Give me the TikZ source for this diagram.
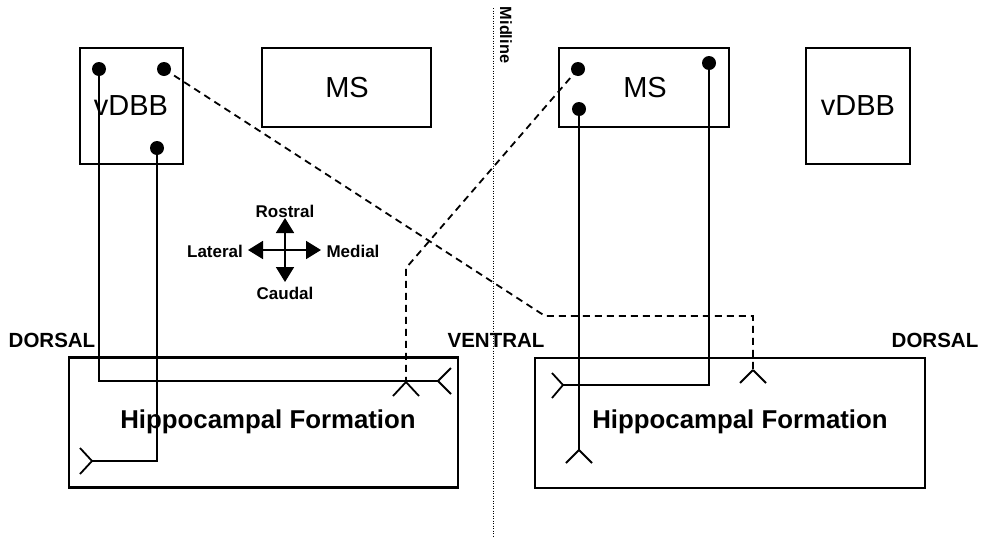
\documentclass[tikz,border=0pt]{standalone}
\usepackage{fontspec}
\setmainfont{Liberation Sans}
\usetikzlibrary{arrows.meta}
\begin{document}
\begin{tikzpicture}[x=1pt,y=-1pt,
  box/.style={draw, line width=2.6pt, rectangle, inner sep=0pt},
  boxtext/.style={font=\fontsize{29}{32}\selectfont},
  bigbold/.style={font=\fontsize{25.8}{28}\selectfont\bfseries},
  sidelabel/.style={font=\fontsize{20.5}{23}\selectfont\bfseries},
  compasslabel/.style={font=\fontsize{17}{19}\selectfont\bfseries},
  dot/.style={circle, fill=black, inner sep=0pt, minimum size=14pt},
  conn/.style={line width=1.8pt},
  dconn/.style={line width=1.8pt, dash pattern=on 7pt off 5pt},
  forkarm/.style={line width=1.8pt},
  compassarrow/.style={line width=1.8pt, {Triangle[width=18pt,length=15pt]}-{Triangle[width=18pt,length=15pt]}}
]
\useasboundingbox (0,0) rectangle (985,536);
\fill[white] (0,0) rectangle (985,536);

% Midline
\coordinate (midtop) at (493,8);
\coordinate (midbot) at (493,536);
\draw[line width=1pt, dash pattern=on 1.2pt off 1.3pt] (midtop) -- (midbot);
\node[rotate=-90, font=\fontsize{16.3}{18}\selectfont\bfseries] (midlabel) at (506,35) {Midline};

% Boxes
\node[box, minimum width=103pt, minimum height=116pt] (vdbbL) at (131.5,106) {};
\node[boxtext] (vdbbLt) at (131,106) {vDBB};
\node[box, minimum width=169pt, minimum height=79pt] (msL) at (346.5,87.5) {};
\node[boxtext] (msLt) at (347,88) {MS};
\node[box, minimum width=170pt, minimum height=79pt] (msR) at (644,87.5) {};
\node[boxtext] (msRt) at (645,88) {MS};
\node[box, minimum width=104pt, minimum height=116pt] (vdbbR) at (858,106) {};
\node[boxtext] (vdbbRt) at (858,106) {vDBB};

\node[box, minimum width=389pt, minimum height=130pt] (hfL) at (263.5,422.5) {};
\node[bigbold] (hfLt) at (268,422) {Hippocampal Formation};
\node[box, minimum width=390pt, minimum height=130pt] (hfR) at (730,423) {};
\node[bigbold] (hfRt) at (740,422) {Hippocampal Formation};

% Side labels
\node[sidelabel] (dorsalL) at (52,340) {DORSAL};
\node[sidelabel] (ventral) at (496,340) {VENTRAL};
\node[sidelabel] (dorsalR) at (935,340) {DORSAL};

% Compass
\coordinate (cN) at (285,218);
\coordinate (cS) at (285,282);
\coordinate (cW) at (248,250);
\coordinate (cE) at (321,250);
\draw[compassarrow] (cS) -- (cN);
\draw[compassarrow] (cW) -- (cE);
\node[compasslabel] (rostral) at (285,211) {Rostral};
\node[compasslabel] (caudal) at (285,293) {Caudal};
\node[compasslabel] (lateral) at (215,251) {Lateral};
\node[compasslabel] (medial) at (353,251) {Medial};

% Dots
\node[dot] (dA) at (99,69) {};
\node[dot] (dB) at (164,69) {};
\node[dot] (dC) at (157,148) {};
\node[dot] (mA) at (578,69) {};
\node[dot] (mB) at (579,109) {};
\node[dot] (mC) at (709,63) {};

% Fork vertices and bends
\coordinate (f1) at (438,381);
\coordinate (f2) at (92,461);
\coordinate (f3) at (753,370);
\coordinate (f4) at (406,382);
\coordinate (f5) at (579,450);
\coordinate (f6) at (563,385);
\coordinate (b3) at (545,316);
\coordinate (b4) at (406,268);

% Connectors from left vDBB
\draw[conn] (dA.center) -- (dA.center |- f1) -- (f1);
\draw[forkarm] (f1) -- +(13,-13) (f1) -- +(13,13);
\draw[conn] (dC.center) -- (dC.center |- f2) -- (f2);
\draw[forkarm] (f2) -- +(-12,-13) (f2) -- +(-12,13);
\draw[dconn] (dB.center) -- (b3) -- (b3 -| f3) -- (f3);
\draw[forkarm] (f3) -- +(-13,13) (f3) -- +(13,13);

% Connectors from right MS
\draw[dconn] (mA.center) -- (b4) -- (f4);
\draw[forkarm] (f4) -- +(-13,14) (f4) -- +(13,14);
\draw[conn] (mB.center) -- (f5);
\draw[forkarm] (f5) -- +(-13,13) (f5) -- +(13,13);
\draw[conn] (mC.center) -- (mC.center |- f6) -- (f6);
\draw[forkarm] (f6) -- +(-11,-12) (f6) -- +(-11,13);
\end{tikzpicture}
\end{document}
